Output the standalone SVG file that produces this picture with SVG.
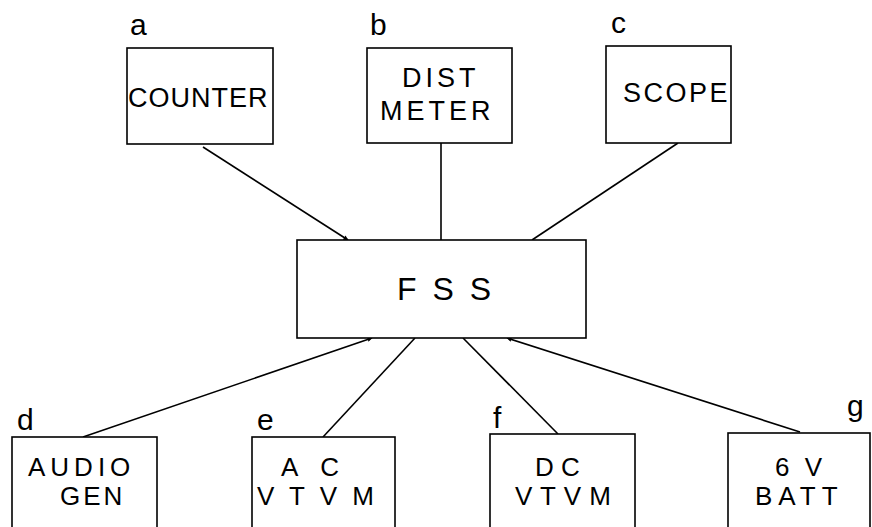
<svg xmlns="http://www.w3.org/2000/svg" width="872" height="527" viewBox="0 0 872 527">
<style>
.box{fill:#fff;stroke:#000;stroke-width:1.6}
.t{font-family:"Liberation Sans",Arial,sans-serif;font-size:27px;fill:#000}
.s{font-size:26px}
.lbl{font-family:"Liberation Sans",Arial,sans-serif;font-size:30px;fill:#000}
.c{stroke:#000;stroke-width:1.6;fill:none}
</style>
<defs>
<marker id="ah" viewBox="0 0 10 10" refX="9" refY="5" markerWidth="6" markerHeight="5" orient="auto" markerUnits="userSpaceOnUse">
<path d="M0,0 L10,5 L0,10 z" fill="#000"/>
</marker>
</defs>
<rect width="872" height="527" fill="#fff"/>
<g id="connectors">
<line class="c" x1="203" y1="147" x2="348" y2="240" marker-end="url(#ah)"/>
<line class="c" x1="441" y1="143" x2="441" y2="240"/>
<line class="c" x1="678" y1="143" x2="532" y2="240"/>
<line class="c" x1="83" y1="437" x2="372" y2="338" marker-end="url(#ah)"/>
<line class="c" x1="323" y1="437" x2="415" y2="338"/>
<line class="c" x1="558" y1="434" x2="463" y2="338"/>
<line class="c" x1="800" y1="432" x2="507" y2="338" marker-end="url(#ah)"/>
</g>
<g id="counter">
<rect class="box" x="127" y="48" width="146" height="96"/>
<text class="lbl" x="130" y="35">a</text>
<text class="t" x="128" y="107" letter-spacing="1">COUNTER</text>
</g>
<g id="distmeter">
<rect class="box" x="367" y="48" width="145" height="95"/>
<text class="lbl" x="370" y="35">b</text>
<text class="t" x="402" y="87" letter-spacing="4">DIST</text>
<text class="t" x="380" y="120" letter-spacing="4">METER</text>
</g>
<g id="scope">
<rect class="box" x="606" y="46" width="125" height="97"/>
<text class="lbl" x="611" y="33">c</text>
<text class="t" x="623" y="102" letter-spacing="2.5">SCOPE</text>
</g>
<g id="fss">
<rect class="box" x="297" y="240" width="289" height="98"/>
<text class="t" x="397" y="300" style="font-size:32px" letter-spacing="3.5">F S S</text>
</g>
<g id="audiogen">
<rect class="box" x="12" y="437" width="145" height="110"/>
<text class="lbl" x="17" y="430">d</text>
<text class="t s" x="28" y="476" letter-spacing="5">AUDIO</text>
<text class="t s" x="60" y="505" letter-spacing="3">GEN</text>
</g>
<g id="acvtvm">
<rect class="box" x="252" y="437" width="143" height="110"/>
<text class="lbl" x="257" y="430">e</text>
<text class="t s" x="281" y="476" letter-spacing="8">A C</text>
<text class="t s" x="257" y="505" letter-spacing="4">V T V M</text>
</g>
<g id="dcvtvm">
<rect class="box" x="490" y="434" width="145" height="110"/>
<text class="lbl" x="493" y="428">f</text>
<text class="t s" x="535" y="476">D C</text>
<text class="t s" x="515" y="505" letter-spacing="0.5">V T V M</text>
</g>
<g id="batt">
<rect class="box" x="728" y="433" width="142" height="110"/>
<text class="lbl" x="847" y="416">g</text>
<text class="t s" x="775" y="476" letter-spacing="4">6 V</text>
<text class="t s" x="755" y="505" letter-spacing="6">BATT</text>
</g>
</svg>
